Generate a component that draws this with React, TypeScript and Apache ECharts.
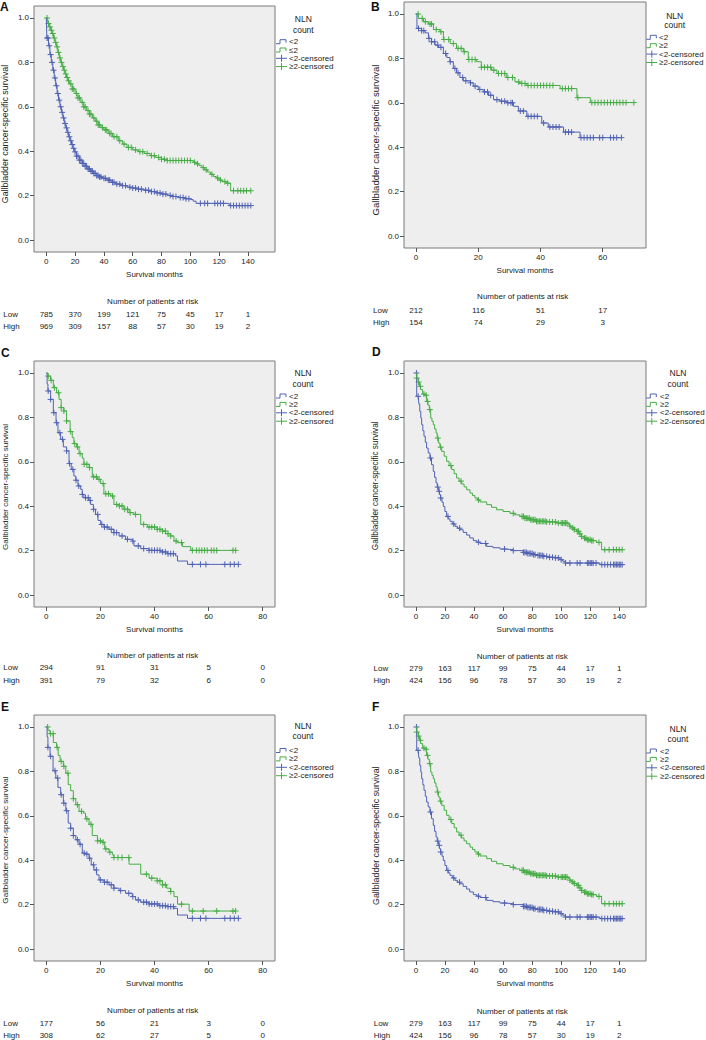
import React, { useEffect, useRef } from "react";
import * as echarts from "echarts";

const BLUE = "#5062b4";
const GREEN = "#46ad46";
const FONT = '"Liberation Sans", Arial, sans-serif';
const TEXT = "#222";

// ---- tick values ----
const ticks140 = [0, 20, 40, 60, 80, 100, 120, 140];
const ticks60 = [0, 20, 40, 60];
const ticks80 = [0, 20, 40, 60, 80];
const yTicks = [0, 0.2, 0.4, 0.6, 0.8, 1.0];

// ---- Panel A ----
const aLow = [[0,1],[0.4,0.91],[1.5,0.875],[2.5,0.835],[3.5,0.8],[4.5,0.765],[5.5,0.73],[6.5,0.695],[7.5,0.66],[8.5,0.63],[9.5,0.6],[10.5,0.575],[11.5,0.55],[12.5,0.525],[13.5,0.505],[14.5,0.485],[15.5,0.465],[16.5,0.447],[17.5,0.43],[18.5,0.413],[19.5,0.397],[21,0.378],[23,0.36],[25,0.345],[27,0.332],[29,0.32],[31,0.31],[33,0.3],[35,0.29],[37,0.284],[39,0.278],[42,0.27],[45,0.26],[48,0.252],[52,0.245],[56,0.238],[60,0.234],[64,0.229],[68,0.224],[72,0.218],[76,0.212],[80,0.207],[84,0.201],[88,0.196],[92,0.191],[96,0.186],[100,0.182],[102,0.175],[104,0.165],[127,0.155]];
const aHigh = [[0,1],[1,0.975],[2,0.96],[3,0.945],[4,0.93],[5,0.91],[6,0.89],[7,0.87],[8,0.845],[9,0.82],[10,0.8],[11,0.782],[12,0.765],[13,0.748],[14,0.732],[15,0.717],[16,0.703],[18,0.68],[20,0.66],[22,0.64],[24,0.62],[26,0.6],[28,0.583],[30,0.567],[32,0.55],[34,0.535],[36,0.518],[38,0.506],[40,0.496],[43,0.48],[46,0.465],[50,0.447],[53,0.432],[56,0.417],[60,0.406],[64,0.398],[68,0.39],[72,0.38],[76,0.372],[80,0.364],[84,0.358],[102,0.35],[104,0.343],[106,0.335],[108,0.326],[110,0.316],[112,0.306],[114,0.296],[116,0.286],[118,0.279],[120,0.27],[122,0.263],[125,0.256],[128,0.222]];
const aLowCens = [0.5,1.2,2,3,4,5,6,7,8,9,10,11,12,13,14,15,16,17,18,19,20,21,22,23,24,25,26,27,28,29,30,31,32,33,34,35,36,37,38,40,41,43,44,46,47,49,51,53,55,58,60,62,64,66,69,71,73,75,77,79,81,83,86,88,90,93,95,97,99,107,110,112,117,119,121,123,128,130,132,134,136,138,140,142];
const aHighCens = [0.5,1.5,2.5,3.5,4.5,5.5,6.5,7.5,8.5,9.5,10.5,11.5,12.5,13.5,14.5,15.5,17,18,19,21,22,23,25,26,27,29,30,31,33,35,36,37,39,41,42,44,45,47,49,51,54,57,59,62,65,67,70,73,75,78,80,82,84,86,88,90,92,94,96,98,100,103,105,109,111,115,119,121,124,126,130,133,135,137,139,142];
const aRiskLow = [785, 370, 199, 121, 75, 45, 17, 1];
const aRiskHigh = [969, 309, 157, 88, 57, 30, 19, 2];

// ---- Panel B ----
const bLow = [[0,1],[0.3,0.935],[1.8,0.925],[2.9,0.915],[4,0.89],[5,0.875],[6.1,0.86],[7.2,0.85],[8.8,0.822],[9.9,0.804],[10.9,0.785],[12,0.755],[13,0.735],[14.1,0.714],[15.2,0.699],[17.4,0.69],[18.4,0.675],[20,0.66],[21.6,0.649],[23.3,0.634],[24.9,0.614],[27,0.607],[29.2,0.6],[31.3,0.584],[32.9,0.563],[35.6,0.539],[40.4,0.509],[42.5,0.491],[47.4,0.468],[52.7,0.443]];
const bHigh = [[0,1],[0.75,0.98],[2.4,0.965],[4,0.955],[5.6,0.93],[7.7,0.92],[8.8,0.885],[11,0.867],[13,0.845],[15.2,0.83],[16.8,0.795],[19.5,0.785],[21,0.76],[24.3,0.747],[26,0.732],[29,0.714],[31.8,0.694],[33.4,0.687],[35.6,0.678],[46.3,0.664],[51.7,0.623],[56,0.601]];
const bLowCens = [0.8,1.8,2.5,4.2,5,6,7,8,9.5,11,12.5,13.5,15,16,17.5,19,20.5,22,23,24,26,27.5,28.5,29.5,30.5,31,33.5,34.5,36,37,38,39,41,43,44,45,46,48,49,50,53,54,55,56,57,59,60,62.5,63.5,64.5,66];
const bHighCens = [0.7,2,3,4.5,5,6.5,8,9,10.5,12,13.5,14.5,15.5,17,18,19,21,22,23,24,25,26.5,27.5,28.5,29.5,31,33,34,35,36,37,38,39,40,41,42,43,44,47,48,49,50,52,56.5,57.5,58.5,59.5,60.5,61.5,62.5,63.5,64.5,65.5,66.5,67.5,70];
const bRiskLow = [212, 116, 51, 17];
const bRiskHigh = [154, 74, 29, 3];

// ---- Panel C ----
const cLow = [[0,1],[0.3,0.95],[0.6,0.919],[1.6,0.881],[2.6,0.821],[3.6,0.776],[4.3,0.731],[5.3,0.701],[6.3,0.667],[7.5,0.649],[8.4,0.592],[9.2,0.566],[10.2,0.536],[10.9,0.517],[11.7,0.491],[12.7,0.476],[13.3,0.453],[13.9,0.438],[15.8,0.426],[16.4,0.408],[17.4,0.386],[18.2,0.363],[19.1,0.336],[20.1,0.318],[21.3,0.306],[23.2,0.296],[25,0.281],[26.9,0.266],[29.3,0.251],[31.8,0.243],[32.4,0.221],[34.9,0.209],[38,0.201],[42.3,0.194],[44.8,0.186],[47.8,0.176],[48.5,0.153],[52.2,0.138]];
const cHigh = [[0,1],[0.6,0.986],[1.6,0.967],[2.6,0.934],[3.8,0.911],[4.7,0.881],[5.5,0.844],[6.5,0.829],[7.5,0.784],[8.8,0.736],[9.6,0.709],[10.2,0.682],[11.2,0.667],[12.1,0.637],[13.3,0.616],[13.9,0.589],[15.8,0.574],[17,0.532],[18.9,0.521],[20.1,0.502],[21.3,0.456],[23.8,0.446],[25,0.408],[26.9,0.401],[28.7,0.386],[30.6,0.371],[32.4,0.363],[34.9,0.318],[37.4,0.306],[41,0.296],[42.9,0.288],[44.1,0.276],[46,0.266],[47.2,0.243],[48.5,0.236],[50.3,0.218],[53.4,0.201]];
const cLowCens = [0.7,1.6,2.8,3.8,5,6,7.5,8.6,9.8,11,12,13.3,14.5,15.5,16.2,17.5,19,20.5,21.5,22.5,24,25,26,28,30,32,34,36,38,39,40,41,42,43,44,45,46,47,54,57,59,66,68,69.5,71];
const cHighCens = [0.7,1.8,3,4.5,5.5,6.5,7.5,9,10.5,11.5,12.5,14,15,16,17.5,18.5,19.5,21,22,23,24.5,26,27,28,29,30,31,33,36,38,39,40,41,42,43,44,45,46,48,50,54,55.5,56.5,57.5,58.5,59.5,61,62,63,69,70];
const cRiskLow = [294, 91, 31, 5, 0];
const cRiskHigh = [391, 79, 32, 6, 0];

// ---- Panel D (and F) ----
const dLow = [[0,1],[0.5,0.895],[1.6,0.89],[2,0.86],[2.6,0.827],[3.3,0.797],[3.9,0.767],[4.7,0.74],[5.5,0.715],[6.4,0.688],[7.3,0.662],[8.4,0.64],[9.6,0.617],[10.7,0.587],[11.9,0.557],[12.8,0.53],[13.8,0.505],[14.6,0.486],[15.4,0.467],[16.2,0.452],[17,0.437],[17.9,0.418],[18.8,0.399],[19.9,0.376],[21.1,0.354],[22.2,0.343],[23.4,0.332],[25,0.32],[26.9,0.309],[28.5,0.301],[30.3,0.294],[32.5,0.282],[34.9,0.27],[37,0.257],[39.5,0.245],[41.8,0.238],[44.1,0.232],[48.7,0.219],[53,0.213],[57.8,0.207],[62,0.204],[67,0.2],[73.9,0.192],[77,0.187],[80.8,0.182],[84,0.178],[87.7,0.174],[91,0.17],[94.6,0.167],[99.2,0.159],[101,0.152],[102.6,0.144],[126.7,0.137]];
const dHigh = [[0,1],[0.5,0.977],[1.6,0.959],[2.4,0.94],[3.2,0.925],[4.6,0.905],[6.2,0.9],[7.3,0.872],[8.2,0.855],[9.2,0.835],[10.1,0.797],[11,0.782],[11.9,0.767],[12.8,0.748],[13.8,0.73],[14.6,0.707],[15.4,0.685],[16.5,0.666],[17.7,0.647],[19.4,0.625],[21.1,0.602],[22.8,0.583],[24.6,0.565],[26.3,0.546],[28,0.527],[29.7,0.513],[31.4,0.5],[33.1,0.487],[34.9,0.474],[37.2,0.459],[38.9,0.448],[40.6,0.437],[42.3,0.428],[44.1,0.419],[48.7,0.407],[52,0.395],[55.5,0.384],[60,0.376],[64.7,0.368],[68,0.361],[71.6,0.354],[75,0.346],[78.5,0.339],[83,0.332],[90,0.329],[96.9,0.324],[104.9,0.317],[106,0.31],[107.2,0.302],[109,0.295],[110.6,0.287],[112.3,0.275],[114,0.264],[115.8,0.256],[117.5,0.249],[121,0.245],[124.4,0.237],[127.8,0.204]];
const dLowCens = [0.3,1.5,10,15,16,17,22,26,30,43,48,61,67,74,75,76,77,78,79,80,81,82,84,85,86,87,88,90,92,94,96,98,100,103,106,111,113,118,119,120,121,122,124,128,130,132,134,136,137,138,139,140,141,142];
const dHighCens = [0.5,1.8,3,5.5,7,8,9.5,15,17,24,31,43,67,73,74,75,76,77,78,79,80,81,82,83,84,85,86,87,88,89,90,92,94,96,98,100,101,102,103,104,106,108,109,111,112,113,114,116,117,118,119,120,121,122,126,130,133,136,138,140,142];
const dRiskLow = [279, 163, 117, 99, 75, 44, 17, 1];
const dRiskHigh = [424, 156, 96, 78, 57, 30, 19, 2];

// ---- Panel E ----
const eLow = [[0,1],[0.3,0.955],[0.6,0.908],[1.4,0.868],[2.5,0.803],[3.5,0.77],[4.3,0.728],[5.3,0.695],[6.3,0.657],[7.2,0.623],[8.1,0.567],[9,0.544],[10,0.511],[10.9,0.492],[12.1,0.472],[13.3,0.432],[14.5,0.427],[15.8,0.409],[16.6,0.379],[17.6,0.356],[18.6,0.334],[19.5,0.311],[21.3,0.301],[23.2,0.289],[25,0.274],[26.9,0.263],[29.3,0.251],[31.8,0.236],[33,0.221],[34.9,0.211],[38,0.203],[41.7,0.195],[44.1,0.191],[47.2,0.183],[48.5,0.153],[52.2,0.138]];
const eHigh = [[0,1],[0.6,0.985],[1.4,0.97],[2.6,0.93],[3.8,0.908],[4.4,0.872],[5.1,0.845],[6.3,0.823],[7.2,0.792],[8.1,0.74],[9,0.713],[10,0.677],[10.9,0.65],[12.1,0.62],[13.7,0.612],[14.5,0.586],[15.8,0.562],[17,0.511],[18.9,0.487],[20.7,0.481],[21.6,0.451],[23.2,0.436],[24.4,0.424],[25,0.412],[30.6,0.382],[34.9,0.337],[38,0.319],[41,0.307],[42.9,0.289],[44.5,0.274],[46,0.259],[47.2,0.236],[48.5,0.202],[52.8,0.171]];
const eLowCens = [0.6,1.6,3.2,4.2,5.5,6.5,7.5,9,10,11.5,12.5,14,15,16,17.5,18.5,20,21.5,22.5,24,25,27.5,30.5,32,34,36,37,38,39,40,41,42,43,44,45,46,47,54,57,59,66,68,69.5,71];
const eHighCens = [0.5,1.5,2.5,4,5.5,6.5,8,10,11.5,13,15,16.5,19,20,21,22,23.5,25,26.5,28,30.5,37,39,41,42,43,44,46,50,54,58,63,69,70];
const eRiskLow = [177, 56, 21, 3, 0];
const eRiskHigh = [308, 62, 27, 5, 0];

const legendLabels = ["<2", "≥2", "<2-censored", "≥2-censored"];

const panelData = [
  { low: aLow, high: aHigh, lowC: aLowCens, highC: aHighCens, ticks: ticks140, rLow: aRiskLow, rHigh: aRiskHigh, label2: "≤2" },
  { low: bLow, high: bHigh, lowC: bLowCens, highC: bHighCens, ticks: ticks60, rLow: bRiskLow, rHigh: bRiskHigh, label2: "≥2" },
  { low: cLow, high: cHigh, lowC: cLowCens, highC: cHighCens, ticks: ticks80, rLow: cRiskLow, rHigh: cRiskHigh, label2: "≥2" },
  { low: dLow, high: dHigh, lowC: dLowCens, highC: dHighCens, ticks: ticks140, rLow: dRiskLow, rHigh: dRiskHigh, label2: "≥2" },
  { low: eLow, high: eHigh, lowC: eLowCens, highC: eHighCens, ticks: ticks80, rLow: eRiskLow, rHigh: eRiskHigh, label2: "≥2" },
  { low: dLow, high: dHigh, lowC: dLowCens, highC: dHighCens, ticks: ticks140, rLow: dRiskLow, rHigh: dRiskHigh, label2: "≥2" },
];

// ---- layout (positions only) ----
const layouts = [
  { letter: "A", lx: 0, ly: 6.5, g: { left: 34, top: 6, width: 241, height: 246 }, xr: [-8.54, 158.8], yt: { x: 5, y: 134, s: 8.8 }, rt: { x: 152.7, y: 301 }, rowX: 3.3, rows: [314, 326], lg: { cx: 303.3, n: 19, c: 30, r: [41.7, 50, 58.3, 66.6], ix: 276, tx: 289 } },
  { letter: "B", lx: 371, ly: 6.5, g: { left: 404, top: 2, width: 242, height: 246 }, xr: [-3.86, 73.9], yt: { x: 375, y: 140, s: 9.6 }, rt: { x: 522.7, y: 296.7 }, rowX: 373, rows: [310, 322.3], lg: { cx: 674.7, n: 15.7, c: 25, r: [37.3, 45.7, 54.1, 62.5], ix: 646.3, tx: 659 } },
  { letter: "C", lx: 1, ly: 352.5, g: { left: 34, top: 361, width: 241, height: 246 }, xr: [-4.55, 84.55], yt: { x: 5, y: 487, s: 8 }, rt: { x: 152.7, y: 655 }, rowX: 3.3, rows: [667, 680.7], lg: { cx: 303, n: 373.3, c: 384, r: [396, 404.4, 412.8, 421.2], ix: 276, tx: 289 } },
  { letter: "D", lx: 372, ly: 352, g: { left: 404, top: 361, width: 242, height: 246 }, xr: [-8.26, 158.4], yt: { x: 375.5, y: 485.8, s: 8.2 }, rt: { x: 522.3, y: 656 }, rowX: 373.5, rows: [668, 680.7], lg: { cx: 678, n: 373.3, c: 384, r: [396, 404.4, 412.8, 421.2], ix: 646.3, tx: 660 } },
  { letter: "E", lx: 1, ly: 706.7, g: { left: 34, top: 715, width: 241, height: 246 }, xr: [-4.55, 84.55], yt: { x: 5, y: 840, s: 8.1 }, rt: { x: 152.7, y: 1010 }, rowX: 3.3, rows: [1023.3, 1035.7], lg: { cx: 303, n: 726, c: 735.7, r: [750.5, 758.9, 767.3, 775.7], ix: 276, tx: 289 } },
  { letter: "F", lx: 372, ly: 707.3, g: { left: 404, top: 715, width: 242, height: 246 }, xr: [-8.26, 158.4], yt: { x: 376, y: 835.7, s: 8.8 }, rt: { x: 522.3, y: 1011.7 }, rowX: 373.7, rows: [1023.3, 1035.7], lg: { cx: 678, n: 729.3, c: 739.3, r: [751, 759.4, 767.8, 776.2], ix: 646.3, tx: 660 } },
];

function survAt(curve: number[][], t: number) {
  let s = 1;
  for (const p of curve) {
    if (p[0] <= t) s = p[1];
    else break;
  }
  return s;
}

function stepData(curve: number[][], cens: number[]) {
  const lastT = Math.max(curve[curve.length - 1][0], cens[cens.length - 1]);
  return [...curve, [lastT, curve[curve.length - 1][1]]];
}

const PLUS = "path://M0,5L10,5M5,0L5,10";

function txt(x: number, y: number, text: string, size: number, align = "left", extra: any = {}) {
  const { bold, fill, ...rest } = extra;
  return {
    type: "text",
    x,
    y,
    silent: true,
    ...rest,
    style: {
      text,
      fontSize: size,
      lineHeight: size,
      fontFamily: FONT,
      fontWeight: bold ? "bold" : "normal",
      fill: fill || TEXT,
      align,
      textAlign: align,
      verticalAlign: "middle",
      textVerticalAlign: "middle",
    },
  };
}

function buildOption() {
  const grids: any[] = [];
  const xAxes: any[] = [];
  const yAxes: any[] = [];
  const series: any[] = [];
  const graphic: any[] = [];

  layouts.forEach((L, i) => {
    const D = panelData[i];
    grids.push({
      ...L.g,
      show: true,
      backgroundColor: "#eeeeee",
      borderColor: "#7a7a7a",
      borderWidth: 1,
      containLabel: false,
      outerBoundsMode: "none",
    });
    const bottom = L.g.top + L.g.height;
    const common = {
      gridIndex: i,
      type: "value",
      min: L.xr[0],
      max: L.xr[1],
      position: "bottom",
      splitLine: { show: false },
      axisPointer: { show: false },
    };
    xAxes.push({
      ...common,
      axisLine: { show: false, onZero: false },
      axisTick: { show: true, length: 4, customValues: D.ticks, lineStyle: { color: "#555" } },
      axisLabel: {
        customValues: D.ticks,
        fontSize: 8,
        lineHeight: 8,
        margin: 5.5,
        color: TEXT,
        fontFamily: FONT,
      },
      name: "Survival months",
      nameLocation: "middle",
      nameGap: 18.5,
      nameTextStyle: { fontSize: 8, lineHeight: 8, color: TEXT, fontFamily: FONT },
    });
    [D.rLow, D.rHigh].forEach((risk, k) => {
      xAxes.push({
        ...common,
        offset: L.rows[k] - bottom - 4,
        axisLine: { show: false, onZero: false },
        axisTick: { show: false },
        axisLabel: {
          customValues: D.ticks,
          fontSize: 8,
          lineHeight: 8,
          margin: 0,
          color: TEXT,
          fontFamily: FONT,
          formatter: (v: number) => {
            const idx = D.ticks.findIndex((t) => Math.abs(t - v) < 1e-6);
            return idx >= 0 ? String(risk[idx]) : "";
          },
        },
      });
    });
    yAxes.push({
      gridIndex: i,
      type: "value",
      min: -0.054,
      max: 1.054,
      splitLine: { show: false },
      axisLine: { show: false, onZero: false },
      axisTick: { show: true, length: 4, customValues: yTicks, lineStyle: { color: "#555" } },
      axisLabel: {
        customValues: yTicks,
        fontSize: 8,
        margin: 5,
        color: TEXT,
        fontFamily: FONT,
        formatter: (v: number) => v.toFixed(1),
      },
    });

    const xi = i * 3;
    const curves: [number[][], number[], string][] = [
      [D.low, D.lowC, BLUE],
      [D.high, D.highC, GREEN],
    ];
    curves.forEach(([curve, cens, col]) => {
      series.push({
        type: "line",
        xAxisIndex: xi,
        yAxisIndex: i,
        step: "end",
        data: stepData(curve, cens),
        showSymbol: false,
        symbol: "none",
        lineStyle: { color: col, width: 1 },
        silent: true,
      });
    });
    curves.forEach(([curve, cens, col]) => {
      series.push({
        type: "scatter",
        xAxisIndex: xi,
        yAxisIndex: i,
        data: cens.map((t) => [t, survAt(curve, t)]),
        symbol: PLUS,
        symbolSize: 6,
        itemStyle: { color: col, borderColor: col, borderWidth: 1, opacity: 1 },
        silent: true,
      });
    });

    // texts
    graphic.push(txt(L.lx, L.ly, L.letter, 12, "left", { bold: true, fill: "#111" }));
    graphic.push(
      txt(L.yt.x, L.yt.y, "Gallbladder cancer-specific survival", L.yt.s, "center", { rotation: Math.PI / 2 })
    );
    graphic.push(txt(L.rt.x, L.rt.y, "Number of patients at risk", 8, "center"));
    graphic.push(txt(L.rowX, L.rows[0], "Low", 8, "left"));
    graphic.push(txt(L.rowX, L.rows[1], "High", 8, "left"));

    // legend
    const lg = L.lg;
    graphic.push(txt(lg.cx, lg.n, "NLN", 8.5, "center"));
    graphic.push(txt(lg.cx, lg.c, "count", 8.5, "center"));
    const labels = [legendLabels[0], D.label2, legendLabels[2], legendLabels[3]];
    labels.forEach((lab, k) => {
      const y = lg.r[k];
      const col = k % 2 === 0 ? BLUE : GREEN;
      if (k < 2) {
        graphic.push({
          type: "polyline",
          silent: true,
          shape: {
            points: [
              [lg.ix, y + 2],
              [lg.ix + 4, y + 2],
              [lg.ix + 4, y - 2],
              [lg.ix + 10, y - 2],
              [lg.ix + 10, y + 1],
            ],
          },
          style: { stroke: col, lineWidth: 1, fill: null },
        });
      } else {
        graphic.push({
          type: "line",
          silent: true,
          shape: { x1: lg.ix, y1: y, x2: lg.ix + 11, y2: y },
          style: { stroke: col, lineWidth: 1 },
        });
        graphic.push({
          type: "line",
          silent: true,
          shape: { x1: lg.ix + 5.5, y1: y - 3.5, x2: lg.ix + 5.5, y2: y + 3.5 },
          style: { stroke: col, lineWidth: 1 },
        });
      }
      graphic.push(txt(lg.tx, y, lab, 8, "left"));
    });
  });

  return {
    animation: false,
    backgroundColor: "#ffffff",
    textStyle: { fontFamily: FONT },
    grid: grids,
    xAxis: xAxes,
    yAxis: yAxes,
    series,
    graphic: { elements: graphic },
  };
}

export default function App() {
  const ref = useRef<HTMLDivElement>(null);
  useEffect(() => {
    document.body.style.margin = "0";
    if (!ref.current) return;
    const chart = echarts.init(ref.current, undefined, { renderer: "svg" });
    chart.setOption(buildOption() as any);
    return () => chart.dispose();
  }, []);
  return (
    <div
      ref={ref}
      style={{ position: "absolute", left: 0, top: 0, width: 706, height: 1040, background: "#fff" }}
    />
  );
}
